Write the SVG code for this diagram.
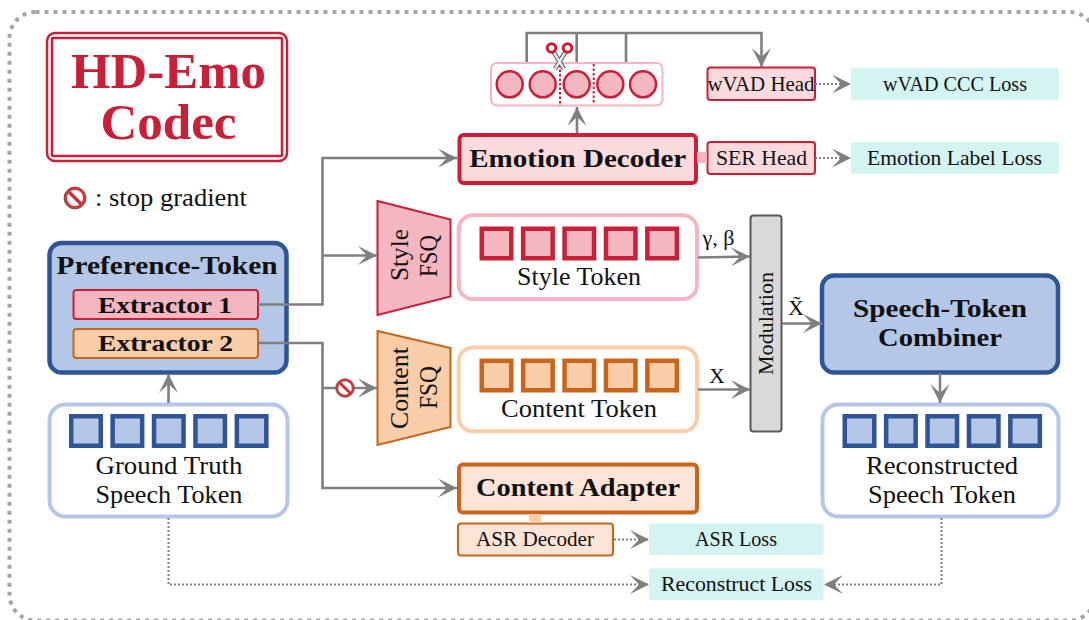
<svg xmlns="http://www.w3.org/2000/svg" xmlns:xlink="http://www.w3.org/1999/xlink" width="1089" height="620" viewBox="0 0 1089 620">
<style>
text{font-family:"Liberation Serif","Times New Roman",serif;fill:#111;text-anchor:middle}
.b{font-weight:bold}
.n24{font-size:25px}.n22{font-size:22px}.b26{font-size:26px;font-weight:bold}.b24{font-size:24px;font-weight:bold}
.line{fill:none;stroke:#7f7f7f;stroke-width:2.6}
.dot{fill:none;stroke:#7f7f7f;stroke-width:2;stroke-dasharray:2 2}
.red{fill:#f4b6c0;stroke:#c91f37}
.pale{fill:#fadadd;stroke:#c91f37}
.org{fill:#f9cda8;stroke:#c8651b}
.palo{fill:#fce4d6;stroke:#c8651b}
.blue{fill:#b4c7e7;stroke:#2f5597}
.loss{fill:#d3f4f1}
.sq-b{fill:#b4c7e7;stroke:#2f5597;stroke-width:4.5}
.sq-r{fill:#f4b6c0;stroke:#c91f37;stroke-width:4.5}
.sq-o{fill:#f9cda8;stroke:#c8651b;stroke-width:4.5}
.c{fill:#f4b6c0;stroke:#c91f37;stroke-width:2.5}
</style>
<defs>
<marker id="arr" markerUnits="userSpaceOnUse" markerWidth="22" markerHeight="24" refX="19" refY="12" orient="auto">
<path d="M19,12 L0,2.5 L9,12 L0,21.500 Z" fill="#7f7f7f"/>
</marker>
<g id="stop">
<circle r="9.500" fill="#fff" stroke="#d23b3b" stroke-width="3"/>
<circle r="11" fill="none" stroke="#555" stroke-width="0.8"/>
<path d="M-6.500,-6.500 L6.500,6.500" stroke="#c93333" stroke-width="3.400"/>
</g>
<g id="sqs">
<rect x="2.250" y="2.250" width="29.500" height="29.500"/>
<rect x="43.650" y="2.250" width="29.500" height="29.500"/>
<rect x="85.050" y="2.250" width="29.500" height="29.500"/>
<rect x="126.450" y="2.250" width="29.500" height="29.500"/>
<rect x="167.850" y="2.250" width="29.500" height="29.500"/>
</g>
</defs>
<rect id="frame" x="9.500" y="12" width="1086" height="608.500" rx="26" fill="#fff" stroke="#a6a6a6" stroke-width="4" stroke-dasharray="4 5"/>

<g id="title">
<rect x="47" y="33" width="240" height="128" rx="8" fill="#fff" stroke="#c91f37" stroke-width="2.500"/>
<rect x="52" y="38" width="230" height="118" rx="1" fill="none" stroke="#c91f37" stroke-width="2.500"/>
<text class="b" x="168.500" y="88" font-size="50" textLength="195" lengthAdjust="spacingAndGlyphs" style="fill:#c91f37">HD-Emo</text>
<text class="b" x="168.500" y="139" font-size="50" textLength="136" lengthAdjust="spacingAndGlyphs" style="fill:#c91f37">Codec</text>
</g>
<g id="legend">
<use xlink:href="#stop" href="#stop" transform="translate(75,198)"/>
<text class="n24" x="171" y="206" textLength="152" lengthAdjust="spacingAndGlyphs">: stop gradient</text>
</g>

<g id="feature-maps">
<rect x="491" y="63" width="171.500" height="42.500" rx="6" fill="#fff" stroke="#f4b6c0" stroke-width="2"/>
<circle class="c" cx="509.700" cy="84.300" r="13"/>
<circle class="c" cx="542.700" cy="84.300" r="13"/>
<circle class="c" cx="576.700" cy="84.300" r="13"/>
<circle class="c" cx="610.300" cy="84.300" r="13"/>
<circle class="c" cx="643" cy="84.300" r="13"/>
<path d="M560,65 V106 M593.700,64 V103" stroke="#c91f37" stroke-width="2" stroke-dasharray="2.500 2" fill="none"/>
</g>

<g id="wvad-head">
<rect class="pale" x="707.500" y="67.500" width="107.500" height="32.500" rx="3" stroke-width="2"/>
<text class="n22" x="761" y="91" textLength="107" lengthAdjust="spacingAndGlyphs">wVAD Head</text>
</g>
<g id="wvad-loss">
<rect class="loss" x="851" y="68" width="208" height="32" rx="2"/>
<text class="n22" x="955" y="91" textLength="144" lengthAdjust="spacingAndGlyphs">wVAD CCC Loss</text>
</g>
<g id="emotion-decoder">
<rect class="pale" x="459.500" y="135" width="236.500" height="48" rx="4" stroke-width="4"/>
<text class="b26" x="577.700" y="167" textLength="217" lengthAdjust="spacingAndGlyphs">Emotion Decoder</text>
</g>
<g id="ser-head">
<rect class="pale" x="707.500" y="142" width="107.500" height="32" rx="3" stroke-width="2"/>
<text class="n22" x="761.500" y="165" textLength="91" lengthAdjust="spacingAndGlyphs">SER Head</text>
</g>
<g id="emotion-loss">
<rect class="loss" x="851" y="142" width="208" height="32" rx="2"/>
<text class="n22" x="954.500" y="165" textLength="175" lengthAdjust="spacingAndGlyphs">Emotion Label Loss</text>
</g>

<g id="style-fsq">
<path class="red" d="M377.500,201 L450.500,219.500 V296.500 L377.500,315 Z" stroke-width="2"/>
<text class="n24" transform="translate(408,255) rotate(-90)" textLength="52" lengthAdjust="spacingAndGlyphs">Style</text>
<text class="n24" transform="translate(437,256) rotate(-90)" textLength="42" lengthAdjust="spacingAndGlyphs">FSQ</text>
</g>
<g id="style-token">
<rect x="458.700" y="215.300" width="238.300" height="83.700" rx="14" fill="#fff" stroke="#f4b6c0" stroke-width="4"/>
<use xlink:href="#sqs" href="#sqs" class="sq-r" transform="translate(479.500,226.500)"/>
<text class="n24" x="579" y="285" textLength="124" lengthAdjust="spacingAndGlyphs">Style Token</text>
</g>
<g id="content-fsq">
<path class="org" d="M377.500,331 L450.500,348 V427 L377.500,445 Z" stroke-width="2"/>
<text class="n24" transform="translate(408,388) rotate(-90)" textLength="82" lengthAdjust="spacingAndGlyphs">Content</text>
<text class="n24" transform="translate(437,387.500) rotate(-90)" textLength="43" lengthAdjust="spacingAndGlyphs">FSQ</text>
</g>
<g id="content-token">
<rect x="458.700" y="347.500" width="238.300" height="83.700" rx="14" fill="#fff" stroke="#f9cda8" stroke-width="4"/>
<use xlink:href="#sqs" href="#sqs" class="sq-o" transform="translate(479.500,358.500)"/>
<text class="n24" x="579" y="417" textLength="156" lengthAdjust="spacingAndGlyphs">Content Token</text>
</g>

<g id="preference-token">
<rect class="blue" x="49.500" y="243" width="237" height="129.500" rx="12" stroke-width="4.500"/>
<text class="b26" x="167" y="273.500" textLength="221" lengthAdjust="spacingAndGlyphs">Preference-Token</text>
</g>
<g id="extractor-1">
<rect class="red" x="73.500" y="290" width="184.500" height="29" rx="3" stroke-width="2"/>
<text class="b24" x="165" y="312.500" textLength="134" lengthAdjust="spacingAndGlyphs">Extractor 1</text>
</g>
<g id="extractor-2">
<rect class="org" x="73.500" y="329" width="184.500" height="29" rx="3" stroke-width="2"/>
<text class="b24" x="165.500" y="351" textLength="135" lengthAdjust="spacingAndGlyphs">Extractor 2</text>
</g>
<g id="ground-truth">
<rect x="49.500" y="404.500" width="238" height="112" rx="16" fill="#fff" stroke="#b4c7e7" stroke-width="4"/>
<use xlink:href="#sqs" href="#sqs" class="sq-b" transform="translate(69,414)"/>
<text class="n24" x="169" y="474" textLength="147" lengthAdjust="spacingAndGlyphs">Ground Truth</text>
<text class="n24" x="169" y="503" textLength="147" lengthAdjust="spacingAndGlyphs">Speech Token</text>
</g>
<g id="modulation">
<rect x="750.500" y="215.500" width="31" height="216" rx="3" fill="#d9d9d9" stroke="#595959" stroke-width="2"/>
<text class="n22" transform="translate(773,323.500) rotate(-90)" textLength="103" lengthAdjust="spacingAndGlyphs">Modulation</text>
</g>
<g id="speech-token-combiner">
<rect class="blue" x="822" y="275.500" width="236" height="97" rx="12" stroke-width="4.500"/>
<text class="b26" x="940" y="317" textLength="174" lengthAdjust="spacingAndGlyphs">Speech-Token</text>
<text class="b26" x="940" y="346" textLength="124" lengthAdjust="spacingAndGlyphs">Combiner</text>
</g>
<g id="reconstructed">
<rect x="822.500" y="404.500" width="236" height="112" rx="16" fill="#fff" stroke="#b4c7e7" stroke-width="4"/>
<use xlink:href="#sqs" href="#sqs" class="sq-b" transform="translate(842.500,414)"/>
<text class="n24" x="942" y="474" textLength="152" lengthAdjust="spacingAndGlyphs">Reconstructed</text>
<text class="n24" x="942" y="503" textLength="148" lengthAdjust="spacingAndGlyphs">Speech Token</text>
</g>
<g id="content-adapter">
<rect class="palo" x="459" y="464.500" width="238" height="48" rx="4" stroke-width="4"/>
<text class="b26" x="578" y="496" textLength="204" lengthAdjust="spacingAndGlyphs">Content Adapter</text>
</g>
<g id="asr-decoder">
<rect class="palo" x="458" y="523.500" width="155" height="32" rx="3" stroke-width="2"/>
<text class="n22" x="535" y="546" textLength="118" lengthAdjust="spacingAndGlyphs">ASR Decoder</text>
</g>
<g id="asr-loss">
<rect class="loss" x="649" y="523.500" width="174.500" height="31.500" rx="2"/>
<text class="n22" x="736" y="546" textLength="82" lengthAdjust="spacingAndGlyphs">ASR Loss</text>
</g>
<g id="reconstruct-loss">
<rect class="loss" x="649" y="568.500" width="174.500" height="31.500" rx="2"/>
<text class="n22" x="736.500" y="591" textLength="151" lengthAdjust="spacingAndGlyphs">Reconstruct Loss</text>
</g>

<g id="connectors">
<rect x="697" y="152" width="10" height="11" fill="#f4b6c0"/>
<rect x="529" y="514" width="12" height="9" fill="#f9cda8"/>
<path class="line" d="M258,304.500 H322.500 V158 H457" marker-end="url(#arr)"/>
<path class="line" d="M322.500,255.500 H377" marker-end="url(#arr)"/>
<path class="line" d="M258,343 H322.500 V488 H457" marker-end="url(#arr)"/>
<path class="line" d="M322.500,388 H377" marker-end="url(#arr)"/>
<path class="line" d="M168.500,403 V374" marker-end="url(#arr)"/>
<path class="line" d="M577,133 V107" marker-end="url(#arr)"/>
<path class="line" d="M526.700,62 V33 H761.500 V67" marker-end="url(#arr)"/>
<path class="line" d="M576.700,33 V62 M626,33 V62"/>
<path class="line" d="M698,257.500 L750,256.500" marker-end="url(#arr)"/>
<path class="line" d="M698,389.500 H750" marker-end="url(#arr)"/>
<path class="line" d="M782,323.500 H822" marker-end="url(#arr)"/>
<path class="line" d="M940,373 V403" marker-end="url(#arr)"/>
<path class="dot" d="M815,84 H851" marker-end="url(#arr)"/>
<path class="dot" d="M815,158 H851" marker-end="url(#arr)"/>
<path class="dot" d="M614,539.500 H649" marker-end="url(#arr)"/>
<path class="dot" d="M168.500,518 V584.500 H649" marker-end="url(#arr)"/>
<path class="dot" d="M941.500,518 V584.500 H824" marker-end="url(#arr)"/>
</g>
<g id="stop-gradient">
<use xlink:href="#stop" href="#stop" transform="translate(345,388) scale(.85)"/>
</g>
<g id="scissors">
<path d="M566,51 L555,69 M553,51 L564,69" stroke="#555" stroke-width="4.400" fill="none"/>
<path d="M566,51 L555,69 M553,51 L564,69" stroke="#e8e8f0" stroke-width="2.400" fill="none"/>
<circle cx="551.500" cy="48" r="4.300" fill="#fff" stroke="#c91f37" stroke-width="3"/>
<circle cx="567.500" cy="48" r="4.300" fill="#fff" stroke="#c91f37" stroke-width="3"/>
</g>
<g id="labels">
<text class="n22" x="718.500" y="245" textLength="32" lengthAdjust="spacingAndGlyphs">γ, β</text>
<text class="n22" x="717" y="383">X</text>
<text class="n22" x="796" y="315">X̃</text>
</g>
</svg>
